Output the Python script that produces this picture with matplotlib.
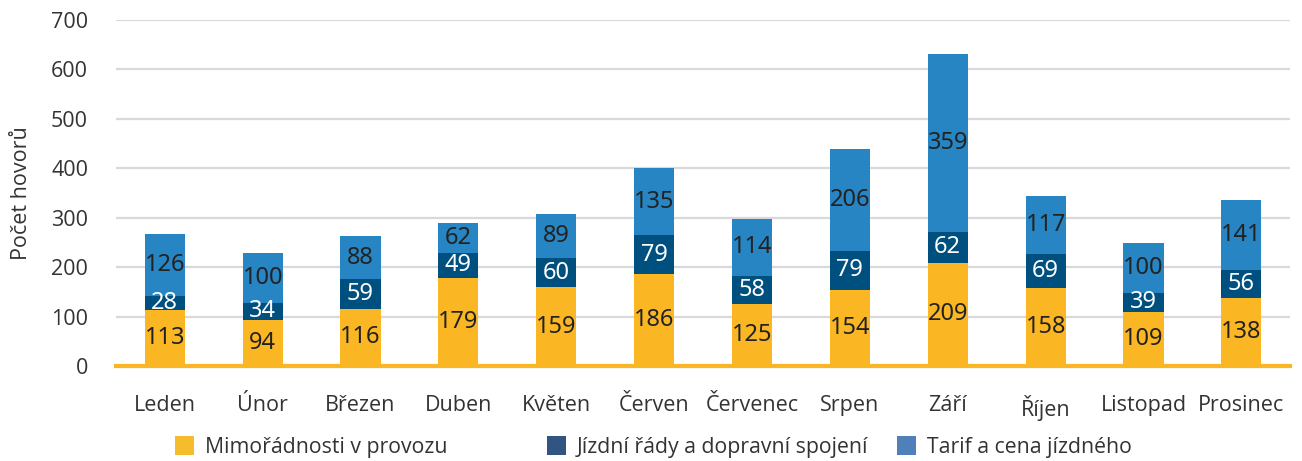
import matplotlib
matplotlib.use("Agg")
import matplotlib.pyplot as plt
from matplotlib.patches import Patch
import numpy as np

months = ["Leden", "Únor", "Březen", "Duben", "Květen", "Červen", "Červenec",
          "Srpen", "Září", "Říjen", "Listopad", "Prosinec"]
mimoradnosti = [113, 94, 116, 179, 159, 186, 125, 154, 209, 158, 109, 138]
jizdni_rady = [28, 34, 59, 49, 60, 79, 58, 79, 62, 69, 39, 56]
tarif = [126, 100, 88, 62, 89, 135, 114, 206, 359, 117, 100, 141]
series_names = ["Mimořádnosti v provozu", "Jízdní řády a dopravní spojení", "Tarif a cena jízdného"]
yticks = [0, 100, 200, 300, 400, 500, 600, 700]

bar_colors = ["#FBB623", "#00507F", "#2685C2"]
legend_colors = ["#F5BC2E", "#2F5580", "#5080BA"]
label_colors = ["#222222", "white", "#222222"]

plt.rcParams['font.family'] = ['Open Sans', 'DejaVu Sans']

fig = plt.figure(figsize=(13.02, 4.61), dpi=100)
ax = fig.add_axes([0.089, 0.206, 0.902, 0.751])

x = np.arange(len(months))
w = 0.41
bottom = np.zeros(len(months))
for vals, col, lc in zip([mimoradnosti, jizdni_rady, tarif], bar_colors, label_colors):
    vals = np.array(vals)
    ax.bar(x, vals, w, bottom=bottom, color=col, zorder=3)
    for xi, b, v in zip(x, bottom, vals):
        ax.text(xi, b + v / 2, str(v), ha='center', va='center', color=lc,
                fontsize=17, family=['Noto Sans', 'DejaVu Sans'], zorder=4)
    bottom = bottom + vals

ax.set_xlim(-0.5, len(months) - 0.5)
ax.set_ylim(0, 700)
ax.set_yticks(yticks)
ax.set_yticklabels([str(t) for t in yticks], fontsize=15.5, color="#333333")
ax.set_xticks(x)
ax.set_xticklabels(months, fontsize=15.5, color="#333333")
ax.tick_params(axis='both', length=0)
ax.tick_params(axis='x', pad=21)
ax.tick_params(axis='y', pad=20)
ax.grid(axis='y', color='#D9D9D9', linewidth=1.6, zorder=0)
for s in ax.spines.values():
    s.set_visible(False)
ax.axhline(0, color='#FBB623', linewidth=3, zorder=5, clip_on=False)
ax.set_ylabel("Počet hovorů", fontsize=15.5, color="#333333", labelpad=14)

legend_x = [0.1344, 0.420, 0.689]
for name, c, lx in zip(series_names, legend_colors, legend_x):
    leg = fig.legend([Patch(facecolor=c, edgecolor='none')], [name], loc='center left',
                     bbox_to_anchor=(lx, 0.03), frameon=False, fontsize=15.3,
                     handlelength=0.9, handleheight=0.95, handletextpad=0.5,
                     borderpad=0, borderaxespad=0, labelcolor="#333333")

fig.savefig("out.png", dpi=100)
